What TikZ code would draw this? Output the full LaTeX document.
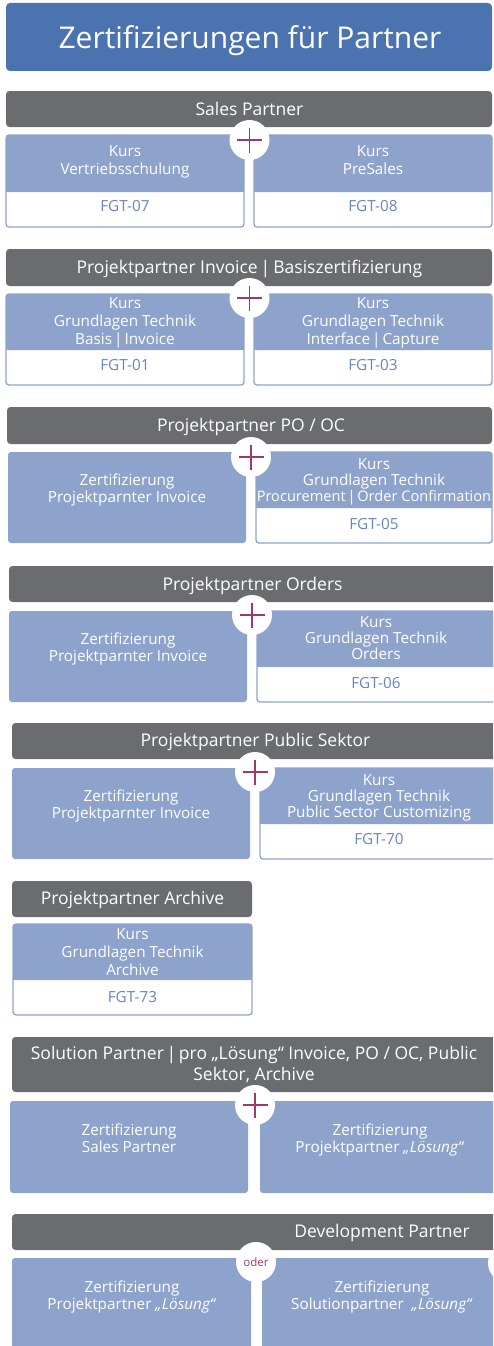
\documentclass[tikz,border=0pt]{standalone}
\usepackage{fontspec}
\setmainfont{Open Sans}
\definecolor{titleblue}{HTML}{4A73B0}
\definecolor{bargray}{HTML}{6B6C70}
\definecolor{boxblue}{HTML}{8EA3CC}
\definecolor{codeblue}{HTML}{6785C1}
\definecolor{plusred}{HTML}{A3376A}
\newcommand\ks{\vrule width 0pt height 12pt depth 4pt\relax}
\newcommand\bst{\vrule width 0pt height 14pt depth 5pt\relax}
\newcommand\vsep[1]{\hspace{#1}|\hspace{#1}}
\tikzset{
  titlebox/.style={fill=titleblue, rounded corners=4pt},
  barbox/.style={fill=bargray, rounded corners=3.5pt},
  bartext/.style={text=white, font=\fontsize{17.5}{20.7}\selectfont, align=center, inner sep=0pt, anchor=base},
  ktext/.style={text=white, font=\fontsize{15.3}{18}\selectfont, align=center, inner sep=0pt},
  ktight/.style={ktext, font=\fontsize{15.3}{16.2}\selectfont},
  kzert/.style={ktext, font=\fontsize{15.3}{16.7}\selectfont},
  codetext/.style={text=codeblue, font=\fontsize{15.3}{18}\selectfont, inner sep=0pt},
  kouter/.style={draw=boxblue, fill=white, line width=1.3pt, rounded corners=3pt},
  kfill/.style={fill=boxblue, rounded corners=3pt},
  joint/.style={circle, fill=white, minimum size=40pt, inner sep=0pt},
  plusline/.style={draw=plusred, line width=1.2pt},
  odertext/.style={text=plusred, font=\fontsize{11.5}{13}\selectfont, inner sep=0pt},
}
% course box with white code area: x1, x2, ytop, ysplit, ybot
\newcommand\kursbox[5]{%
  \path[kouter] (#1,#3) rectangle (#2,#5);
  \path[kfill] (#1,#3) rectangle (#2,#4);
  \fill[boxblue] (#1,#3+5) rectangle (#2,#4);
}
\newcommand\plusmark[1]{%
  \draw[plusline] (#1.center) +(-12.5,0) -- +(12.5,0) (#1.center) +(0,-12.5) -- +(0,12.5);
}
\begin{document}
\begin{tikzpicture}[x=1pt,y=-1pt]
\useasboundingbox (0,0) rectangle (493,1346);
\clip (0,0) rectangle (493,1346);
\fill[white] (0,0) rectangle (493,1346);

% Title
\path[titlebox] (6,3) rectangle (492,71);
\node[text=white, font=\fontsize{30}{34}\selectfont, inner sep=0pt, anchor=base] (title) at (250,48.3) {Zertifizierungen für Partner};

% ---- Section 1: Sales Partner
\path[barbox] (6,91) rectangle (492,127);
\node[bartext] (bar1) at (249.5,115) {Sales Partner};
\kursbox{6}{244}{135}{192}{227}
\kursbox{254}{492}{135}{192}{227}
\node[ktext] (k1l) at (125,161) {\ks Kurs\\Vertriebsschulung\ks};
\node[codetext] (c1l) at (125,206.5) {FGT-07};
\node[ktext] (k1r) at (373,161) {\ks Kurs\\PreSales\ks};
\node[codetext] (c1r) at (373,206.5) {FGT-08};
\node[joint] (j1) at (249.5,140) {};
\plusmark{j1}

% ---- Section 2
\path[barbox] (6,249) rectangle (492,286);
\node[bartext] (bar2) at (249.5,273.3) {Projektpartner Invoice\vsep{3pt}Basiszertifizierung};
\kursbox{6}{244}{294}{350}{385}
\kursbox{254}{492}{294}{350}{385}
\node[ktext] (k2l) at (125,322.5) {\ks Kurs\\Grundlagen Technik\\Basis\vsep{2pt}Invoice\ks};
\node[codetext] (c2l) at (125,365.5) {FGT-01};
\node[ktext] (k2r) at (373,322.5) {\ks Kurs\\Grundlagen Technik\\Interface\vsep{2pt}Capture\ks};
\node[codetext] (c2r) at (373,365.5) {FGT-03};
\node[joint] (j2) at (249.5,298) {};
\plusmark{j2}

% ---- Section 3
\path[barbox] (7,407) rectangle (492,444);
\node[bartext] (bar3) at (251,431.7) {Projektpartner PO / OC};
\path[kfill] (8,452) rectangle (246,543);
\kursbox{256}{492}{452}{508}{543}
\node[kzert] (z3l) at (127,490.3) {\ks Zertifizierung\\Projektparnter Invoice\ks};
\node[ktight] (k3r) at (374,481.3) {\ks Kurs\\Grundlagen Technik\\{\fontsize{14.6}{16.2}\selectfont Procurement\vsep{1.8pt}Order Confirmation}\ks};
\node[codetext] (c3r) at (374,524) {FGT-05};
\node[joint] (j3) at (251,457) {};
\plusmark{j3}

% ---- Section 4
\path[barbox] (9,566) rectangle (497,602);
\node[bartext] (bar4) at (252.5,590) {Projektpartner Orders};
\path[kfill] (9,611) rectangle (247,702);
\kursbox{257}{497}{611}{667}{702}
\node[kzert] (z4l) at (128,648.7) {\ks Zertifizierung\\Projektparnter Invoice\ks};
\node[ktight] (k4r) at (376,639.7) {\ks Kurs\\Grundlagen Technik\\Orders\ks};
\node[codetext] (c4r) at (376,683) {FGT-06};
\node[joint] (j4) at (252,615) {};
\plusmark{j4}

% ---- Section 5
\path[barbox] (12,723) rectangle (499,759);
\node[bartext] (bar5) at (255.5,746.7) {Projektpartner Public Sektor};
\path[kfill] (12,768) rectangle (250,859);
\kursbox{260}{499}{768}{824}{859}
\node[kzert] (z5l) at (131,806) {\ks Zertifizierung\\Projektparnter Invoice\ks};
\node[ktight] (k5r) at (379,797.7) {\ks Kurs\\Grundlagen Technik\\Public Sector Customizing\ks};
\node[codetext] (c5r) at (379,839) {FGT-70};
\node[joint] (j5) at (255,772) {};
\plusmark{j5}

% ---- Section 6
\path[barbox] (12,881) rectangle (252,917);
\node[bartext] (bar6) at (132.5,904) {Projektpartner Archive};
\kursbox{13}{252}{924}{980}{1015}
\node[ktext] (k6) at (132.5,953) {\ks Kurs\\Grundlagen Technik\\Archive\ks};
\node[codetext] (c6) at (132.5,997) {FGT-73};

% ---- Section 7
\path[barbox] (12,1037) rectangle (497,1092);
\node[bartext, anchor=center] (bar7) at (254,1065.2) {\bst Solution Partner\vsep{2.7pt}pro „Lösung“ Invoice, PO / OC, Public\\Sektor, Archive\bst};
\path[kfill] (10,1101) rectangle (248,1193);
\path[kfill] (260,1101) rectangle (500,1193);
\node[kzert] (z7l) at (129,1140) {\ks Zertifizierung\\Sales Partner\ks};
\node[kzert] (z7r) at (380,1140) {\ks Zertifizierung\\Projektpartner \textit{„Lösung“}\ks};
\node[joint] (j7) at (255,1105) {};
\plusmark{j7}

% ---- Section 8
\path[barbox] (12,1214) rectangle (752,1250);
\node[bartext] (bar8) at (382,1237.3) {Development Partner};
\path[kfill] (12,1258) rectangle (251,1380);
\path[kfill] (262,1258) rectangle (502,1380);
\node[kzert] (z8l) at (132,1297) {\ks Zertifizierung\\Projektpartner \textit{„Lösung“}\ks};
\node[kzert] (z8r) at (382,1297) {\ks Zertifizierung\\Solutionpartner~ \textit{„Lösung“}\ks};
\node[joint] (j8) at (256,1262) {};
\node[odertext] (oder) at (j8.center) {oder};
\node[joint] (j8b) at (508,1263) {};
\end{tikzpicture}
\end{document}
